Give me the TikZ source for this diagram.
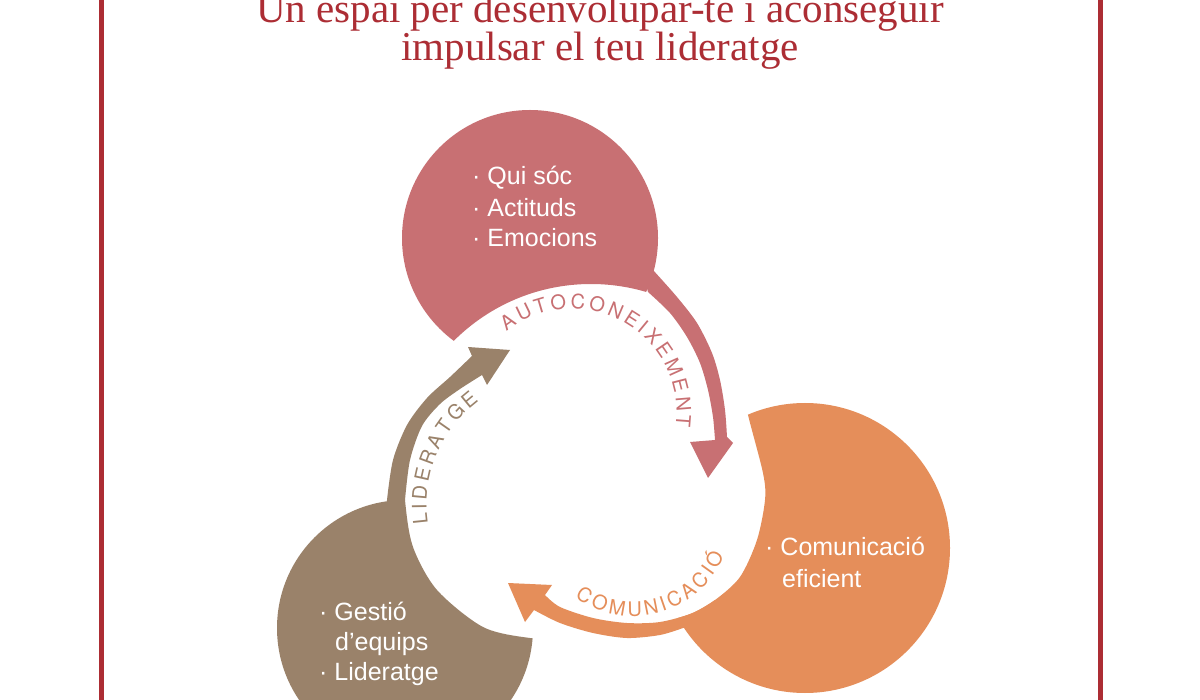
\documentclass[tikz,border=0pt]{standalone}
\usepackage{fontspec}
\setmainfont{Liberation Serif}
\newfontfamily\mybodyfont{Liberation Sans}
\newfontfamily\myarcfont[WordSpace=0.6]{TeX Gyre Heros}
\usetikzlibrary{decorations.text}
\definecolor{pinkc}{RGB}{200,112,115}
\definecolor{orangec}{RGB}{229,142,90}
\definecolor{brownc}{RGB}{154,130,106}
\definecolor{titlec}{RGB}{172,45,52}
\newcommand\arcfmt{\myarcfont\fontsize{20}{23}\selectfont}
\begin{document}
\begin{tikzpicture}[x=1pt,y=-1pt,
  frame/.style={titlec, line width=5},
  titletext/.style={anchor=base, inner sep=0, text=titlec, font=\fontsize{41}{45}\selectfont},
  itemtext/.style={anchor=base west, inner sep=0, text=white, font=\mybodyfont\fontsize{25}{30}\selectfont}]
\useasboundingbox (0,0) rectangle (1200,700);
\fill[white] (0,0) rectangle (1200,700);

% frame lines
\draw[frame] (101,0) -- (101,700);
\draw[frame] (1100,0) -- (1100,700);

% title
\node[titletext] (t1) at (600,23) {Un espai per desenvolupar-te i aconseguir};
\node[titletext] (t2) at (600,61) {impulsar el teu lideratge};

% pink circle with cut
\begin{scope}
  \clip (530,238) circle[radius=128];
  \fill[pinkc, even odd rule] (300,0) rectangle (900,700) (591,478) circle[radius=194];
\end{scope}

% brown circle with cut
\begin{scope}
  \clip (405,628) circle[radius=128];
  \fill[brownc, even odd rule] (200,400) rectangle (700,760)
    plot[smooth] coordinates {(402,440) (405,500) (413,547) (437,590) (483,627) (530,638) (580,640)} -- (640,640) -- (640,440) -- cycle;
\end{scope}

% orange circle with cut
\begin{scope}
  \clip (805,548) circle[radius=145];
  \fill[orangec, even odd rule] (560,340) rectangle (1000,760)
    plot[smooth] coordinates {(738,370) (748,415) (763,473) (765,500) (757,540) (740,577) (715,600) (690,614) (660,622) (620,626)} -- (600,626) -- (600,370) -- cycle;
\end{scope}

% pink arrow
\fill[pinkc] plot[smooth] coordinates {(653,270) (677,297) (697,323) (712,353) (720,380) (725,410) (727,437)}
  -- (733,443) -- (708,478) -- (690,442)
  -- plot[smooth] coordinates {(715,440) (713,417) (708,390) (700,363) (687,337) (670,313) (648,292)}
  -- (640,262) -- cycle;

% brown arrow
\fill[brownc] plot[smooth] coordinates {(387,500) (393,460) (407,425) (427,398) (450,377) (472,356)}
  -- (468,347) -- (510,350) -- (487,385)
  -- plot[smooth] coordinates {(482,375) (460,389) (440,404) (422,426) (410,460) (405,500)}
  -- (400,530) -- (385,520) -- cycle;

% orange arrow
\fill[orangec] plot[smooth] coordinates {(683,628) (660,635) (627,638) (593,633) (560,623) (534,610)}
  -- (525,622) -- (508,583) -- (552,585)
  -- plot[smooth] coordinates {(545,595) (560,607) (593,618) (627,623) (660,622) (693,613) (715,600)}
  -- (720,625) -- cycle;

% arc labels
\path[decorate, decoration={text along path, text align=center,
  text={|\arcfmt\color{pinkc}|A U T O C O N E I X E M E N T}}]
  (572,413) ++(200:104.5) arc[start angle=200, end angle=399, radius=104.5];
\path[decorate, decoration={text along path, text align=center,
  text={|\arcfmt\color{brownc}|L I D E R A T G E}}]
  (556.5,505) ++(140:130) arc[start angle=140, end angle=265, radius=130];
\path[decorate, decoration={text along path, text align=center,
  text={|\arcfmt\color{orangec}|C O M U N I C A C I Ó}}]
  (633,517) ++(150:99) arc[start angle=150, end angle=-1, radius=99];

% item texts
\node[itemtext] (p1) at (472,185) {· Qui sóc};
\node[itemtext] (p2) at (472,217) {· Actituds};
\node[itemtext] (p3) at (472,247) {· Emocions};
\node[itemtext] (o1) at (765,555) {· Comunicació};
\node[itemtext] (o2) at (782,587) {eficient};
\node[itemtext] (b1) at (319,620) {· Gestió};
\node[itemtext] (b2) at (335,650) {d’equips};
\node[itemtext] (b3) at (319,680) {· Lideratge};
\end{tikzpicture}
\end{document}
